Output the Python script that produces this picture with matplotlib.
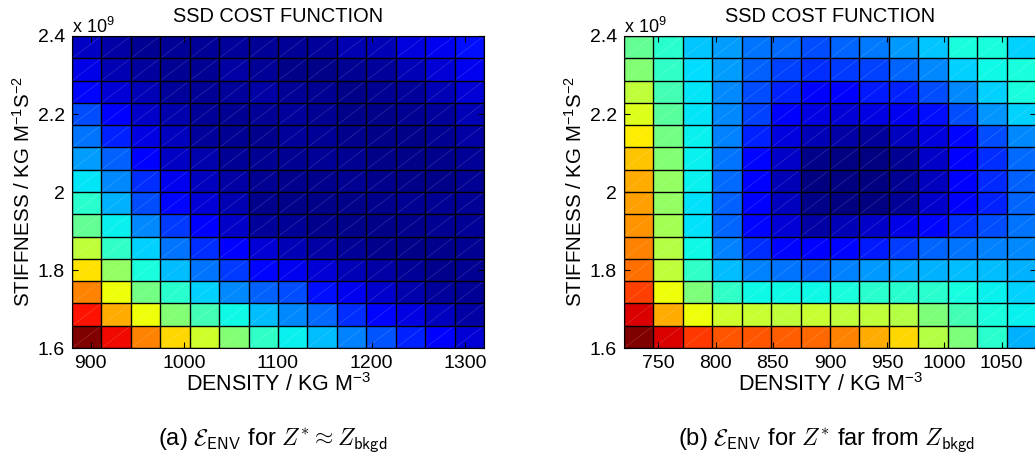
import matplotlib
matplotlib.use("Agg")
import matplotlib.pyplot as plt
import numpy as np
from matplotlib.collections import LineCollection

plt.rcParams['font.family'] = ['Liberation Sans', 'DejaVu Sans']
plt.rcParams['mathtext.fontset'] = 'custom'
plt.rcParams['mathtext.rm'] = 'Liberation Sans'
plt.rcParams['mathtext.it'] = 'Liberation Sans:italic'
plt.rcParams['mathtext.bf'] = 'Liberation Sans:bold'

# grid edges (density, stiffness)
dens_a = np.linspace(880, 1320, 15)
dens_b = np.linspace(720, 1080, 15)
stiff = np.linspace(1.6e9, 2.4e9, 15)

xticks_a = [900, 1000, 1100, 1200, 1300]
xticks_b = [750, 800, 850, 900, 950, 1000, 1050]
yticks = [1.6e9, 1.8e9, 2.0e9, 2.2e9, 2.4e9]
ytick_labels = ["1.6", "1.8", "2", "2.2", "2.4"]

# normalised SSD cost, rows listed from top (2.4e9) to bottom (1.6e9)
cost_a = [
    [0.062, 0.035, 0.018, 0.022, 0.022, 0.026, 0.022, 0.022, 0.026, 0.044, 0.048, 0.084, 0.099, 0.14],
    [0.092, 0.044, 0.029, 0.018, 0.018, 0.035, 0.022, 0.011, 0.011, 0.018, 0.026, 0.048, 0.077, 0.099],
    [0.13, 0.077, 0.048, 0.026, 0.022, 0.026, 0.035, 0.022, 0.018, 0.011, 0.018, 0.026, 0.048, 0.077],
    [0.20, 0.11, 0.066, 0.040, 0.022, 0.018, 0.022, 0.026, 0.018, 0.011, 0.011, 0.018, 0.026, 0.048],
    [0.24, 0.16, 0.088, 0.055, 0.026, 0.018, 0.013, 0.026, 0.022, 0.013, 0.011, 0.011, 0.018, 0.035],
    [0.28, 0.22, 0.11, 0.062, 0.040, 0.022, 0.018, 0.018, 0.022, 0.018, 0.011, 0.011, 0.013, 0.022],
    [0.35, 0.26, 0.17, 0.099, 0.055, 0.033, 0.018, 0.013, 0.013, 0.018, 0.013, 0.011, 0.011, 0.018],
    [0.40, 0.30, 0.20, 0.13, 0.077, 0.044, 0.013, 0.011, 0.011, 0.011, 0.013, 0.018, 0.018, 0.022],
    [0.47, 0.36, 0.26, 0.18, 0.11, 0.066, 0.026, 0.022, 0.013, 0.011, 0.011, 0.013, 0.018, 0.022],
    [0.58, 0.41, 0.33, 0.24, 0.17, 0.11, 0.077, 0.048, 0.035, 0.022, 0.013, 0.011, 0.013, 0.018],
    [0.67, 0.53, 0.38, 0.31, 0.24, 0.18, 0.13, 0.099, 0.077, 0.048, 0.035, 0.022, 0.013, 0.018],
    [0.77, 0.64, 0.49, 0.40, 0.33, 0.26, 0.22, 0.20, 0.14, 0.099, 0.070, 0.040, 0.026, 0.022],
    [0.89, 0.73, 0.64, 0.51, 0.43, 0.37, 0.31, 0.26, 0.23, 0.17, 0.13, 0.088, 0.055, 0.035],
    [1.00, 0.90, 0.77, 0.68, 0.60, 0.51, 0.41, 0.36, 0.31, 0.25, 0.21, 0.16, 0.11, 0.077],
]

cost_b = [
    [0.47, 0.40, 0.32, 0.28, 0.24, 0.23, 0.20, 0.225, 0.245, 0.275, 0.32, 0.38, 0.38, 0.33],
    [0.51, 0.41, 0.34, 0.28, 0.22, 0.19, 0.17, 0.18, 0.19, 0.225, 0.26, 0.33, 0.37, 0.38],
    [0.58, 0.43, 0.35, 0.26, 0.20, 0.16, 0.11, 0.11, 0.15, 0.16, 0.20, 0.26, 0.33, 0.38],
    [0.62, 0.46, 0.35, 0.26, 0.19, 0.11, 0.088, 0.077, 0.088, 0.10, 0.14, 0.20, 0.27, 0.33],
    [0.66, 0.49, 0.36, 0.25, 0.16, 0.084, 0.048, 0.033, 0.026, 0.055, 0.084, 0.13, 0.20, 0.26],
    [0.70, 0.51, 0.36, 0.24, 0.13, 0.066, 0.011, 0.0, 0.0, 0.018, 0.066, 0.11, 0.17, 0.23],
    [0.73, 0.53, 0.36, 0.23, 0.11, 0.048, 0.0, 0.0, 0.0, 0.018, 0.055, 0.11, 0.165, 0.22],
    [0.74, 0.53, 0.345, 0.22, 0.11, 0.055, 0.011, 0.0, 0.0, 0.022, 0.070, 0.11, 0.16, 0.225],
    [0.75, 0.55, 0.345, 0.225, 0.13, 0.077, 0.033, 0.048, 0.066, 0.092, 0.13, 0.17, 0.20, 0.24],
    [0.77, 0.57, 0.37, 0.25, 0.17, 0.13, 0.11, 0.13, 0.15, 0.185, 0.225, 0.24, 0.25, 0.26],
    [0.79, 0.58, 0.41, 0.31, 0.25, 0.24, 0.225, 0.25, 0.275, 0.29, 0.30, 0.31, 0.31, 0.30],
    [0.84, 0.64, 0.50, 0.41, 0.37, 0.37, 0.37, 0.38, 0.40, 0.40, 0.40, 0.375, 0.36, 0.33],
    [0.92, 0.73, 0.64, 0.60, 0.59, 0.58, 0.59, 0.58, 0.58, 0.57, 0.50, 0.43, 0.38, 0.36],
    [1.00, 0.92, 0.85, 0.82, 0.82, 0.81, 0.80, 0.77, 0.73, 0.68, 0.57, 0.50, 0.40, 0.30],
]

captions = [r"(a) $\mathcal{E}_{\mathsf{ENV}}$ for $Z^{*} \approx Z_{\mathsf{bkgd}}$",
            r"(b) $\mathcal{E}_{\mathsf{ENV}}$ for $Z^{*}$ far from $Z_{\mathsf{bkgd}}$"]


def cost_panel(ax, xedges, cost, xticks):
    c = np.array(cost)[::-1]
    ax.pcolormesh(xedges, stiff, c, cmap='jet', vmin=0, vmax=1)
    # faint diagonals in each cell
    segs = []
    for i in range(len(xedges) - 1):
        for j in range(len(stiff) - 1):
            segs.append([(xedges[i], stiff[j]), (xedges[i + 1], stiff[j + 1])])
    ax.add_collection(LineCollection(segs, colors='white', linewidths=0.4, alpha=0.22))
    # black cell borders
    ax.vlines(xedges, stiff[0], stiff[-1], colors='k', linewidth=1.0, snap=True)
    ax.hlines(stiff, xedges[0], xedges[-1], colors='k', linewidth=1.0, snap=True)
    ax.set_xlim(xedges[0], xedges[-1])
    ax.set_ylim(stiff[0], stiff[-1])
    ax.set_xticks(xticks)
    ax.set_xticklabels([str(t) for t in xticks])
    ax.set_yticks(yticks)
    ax.set_yticklabels(ytick_labels)
    ax.tick_params(direction='in', top=True, right=True, labelsize=14, length=4, pad=5)
    ax.set_title("SSD COST FUNCTION", fontsize=14.4, pad=10)
    ax.set_xlabel("DENSITY / KG M$^{-3}$", fontsize=15.5, labelpad=1)
    ax.set_ylabel("STIFFNESS / KG M$^{-1}$S$^{-2}$", fontsize=14.8, labelpad=3)
    ax.text(0, 0.997, r"x 10$^{9}$", transform=ax.transAxes, fontsize=13, va='bottom', ha='left')


fig = plt.figure(figsize=(10.35, 4.61), dpi=100)
ax1 = fig.add_axes([72 / 1035, 113 / 461, 412 / 1035, 312 / 461])
ax2 = fig.add_axes([624 / 1035, 113 / 461, 412 / 1035, 312 / 461])

cost_panel(ax1, dens_a, cost_a, xticks_a)
cost_panel(ax2, dens_b, cost_b, xticks_b)

fig.text(273 / 1035, 1 - 440 / 461, captions[0], fontsize=17, ha='center', va='center',
         math_fontfamily='cm')
fig.text(827 / 1035, 1 - 440 / 461, captions[1], fontsize=17, ha='center', va='center',
         math_fontfamily='cm')

fig.savefig("out.png", dpi=100)
